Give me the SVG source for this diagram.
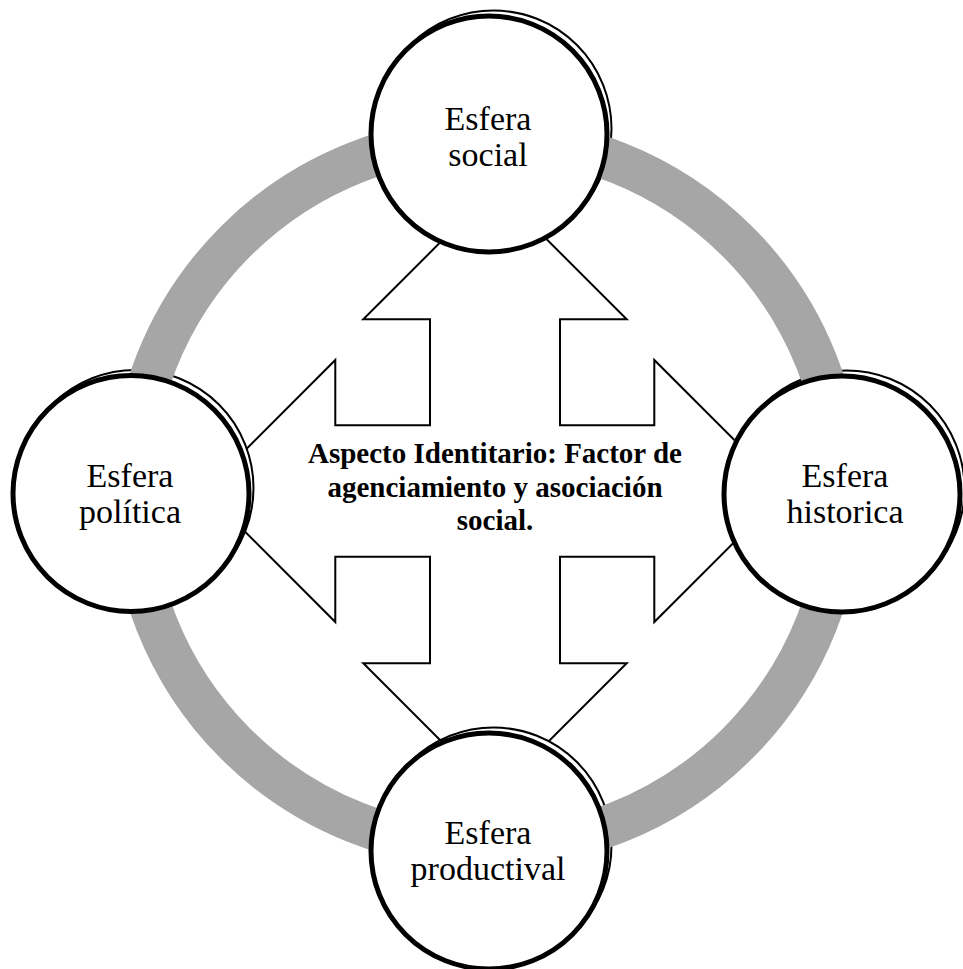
<svg xmlns="http://www.w3.org/2000/svg" width="963" height="969" viewBox="0 0 963 969">
<style>
.bg{fill:#ffffff}
.arrow{fill:#ffffff;stroke:#000000;stroke-width:2;stroke-linejoin:miter}
.shadow{fill:#ffffff;stroke:#000000;stroke-width:2}
.ring{fill:none;stroke:#a6a6a6;stroke-width:42}
.sphere{fill:#ffffff;stroke:#000000;stroke-width:5}
.lbl{font-family:"Liberation Serif","Times New Roman",serif;font-size:34px;fill:#000000;text-anchor:middle}
.core{font-family:"Liberation Serif","Times New Roman",serif;font-size:29px;font-weight:bold;fill:#000000;text-anchor:middle}
</style>
<rect class="bg" x="0" y="0" width="963" height="969"/>
<g id="node-center">
<polygon class="arrow" points="495,187.6 626.7,319.3 560,319.3 560,425.3 654.3,425.3 654.3,360 785.3,491 654.3,622 654.3,556.7 560,556.7 560,663.3 626.7,663.3 495,795 363.3,663.3 430,663.3 430,556.7 335.3,556.7 335.3,622 204.3,491 335.3,360 335.3,425.3 430,425.3 430,319.3 363.3,319.3"/>
<text class="core" x="495" y="463.3">Aspecto Identitario: Factor de</text>
<text class="core" x="495" y="496.7">agenciamiento y asociación</text>
<text class="core" x="495" y="530">social.</text>
</g>
<g id="node-shadows">
<circle class="shadow" cx="493.5" cy="128.5" r="118"/>
<circle class="shadow" cx="135.5" cy="488" r="118"/>
<circle class="shadow" cx="846.5" cy="488.5" r="118"/>
<circle class="shadow" cx="493.5" cy="845.5" r="118"/>
</g>
<g id="connectors">
<circle class="ring" cx="486.5" cy="492.5" r="355"/>
</g>
<g id="node-social">
<circle class="sphere" cx="489" cy="134" r="118"/>
<text class="lbl" x="488" y="130">Esfera</text>
<text class="lbl" x="488" y="166">social</text>
</g>
<g id="node-politica">
<circle class="sphere" cx="131" cy="493.5" r="118"/>
<text class="lbl" x="130" y="487">Esfera</text>
<text class="lbl" x="130" y="523">política</text>
</g>
<g id="node-historica">
<circle class="sphere" cx="842" cy="494" r="118"/>
<text class="lbl" x="845" y="487">Esfera</text>
<text class="lbl" x="845" y="523">historica</text>
</g>
<g id="node-productival">
<circle class="sphere" cx="489" cy="851" r="118"/>
<text class="lbl" x="488" y="843.5">Esfera</text>
<text class="lbl" x="488" y="880">productival</text>
</g>
</svg>
